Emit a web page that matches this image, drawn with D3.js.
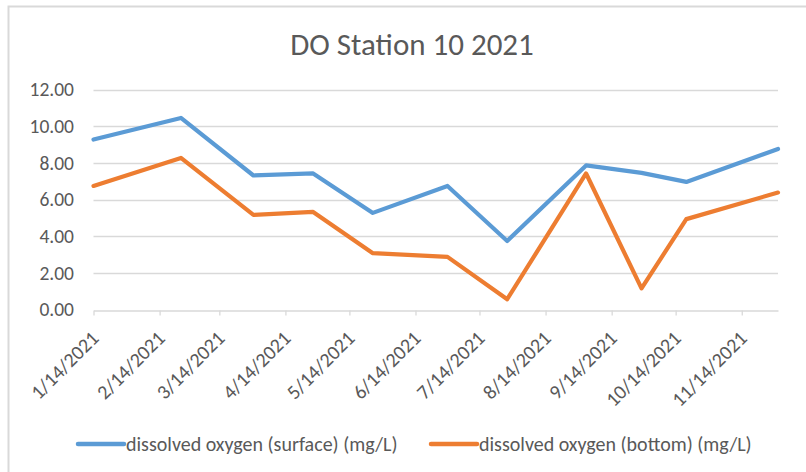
<!DOCTYPE html>
<html>
<head>
<meta charset="utf-8">
<script src="https://cdn.jsdelivr.net/npm/d3@7"></script>
<style>
  body { margin: 0; background: #fff; }
  text { font-family: Carlito, Calibri, Lato, "Open Sans", sans-serif; fill: #595959; }
</style>
</head>
<body>
<div id="chart"></div>
<script>
// sampling dates and readings
const dates = ["2021-01-14", "2021-02-24", "2021-03-30", "2021-04-27", "2021-05-25", "2021-06-29",
               "2021-07-27", "2021-09-02", "2021-09-28", "2021-10-19", "2021-12-01"];
const surface = [9.27, 10.45, 7.31, 7.42, 5.27, 6.74, 3.74, 7.86, 7.45, 6.96, 8.76];
const bottom  = [6.74, 8.27, 5.16, 5.32, 3.07, 2.87, 0.56, 7.42, 1.15, 4.93, 6.38];

const tickDates = ["2021-01-14", "2021-02-14", "2021-03-14", "2021-04-14", "2021-05-14", "2021-06-14",
                   "2021-07-14", "2021-08-14", "2021-09-14", "2021-10-14", "2021-11-14"];
const yTicks = [0, 2, 4, 6, 8, 10, 12];

const seriesNames = ["dissolved oxygen (surface) (mg/L)", "dissolved oxygen (bottom) (mg/L)"];
const colors = ["#5B9BD5", "#ED7D31"];

const parse = d3.utcParse("%Y-%m-%d");
const fmtTick = d3.utcFormat("%-m/%-d/%Y");

const W = 806, H = 472;
const svg = d3.select("#chart").append("svg")
  .attr("width", W).attr("height", H);

// chart frame
svg.append("rect")
  .attr("x", 8.5).attr("y", 6.5)
  .attr("width", W + 10).attr("height", H + 10)
  .attr("fill", "none").attr("stroke", "#d9d9d9").attr("stroke-width", 2);

// title
svg.append("text")
  .attr("x", 412).attr("y", 55)
  .attr("text-anchor", "middle")
  .style("font-size", "31px")
  .text("DO Station 10 2021");

// scales
const x = d3.scaleUtc()
  .domain([parse(dates[0]), parse(dates[dates.length - 1])])
  .range([93.5, 778]);
const y = d3.scaleLinear().domain([0, 12]).range([309.5, 89.5]);

// gridlines
svg.append("g")
  .selectAll("line")
  .data(yTicks.filter(d => d > 0))
  .join("line")
  .attr("x1", 93.5).attr("x2", 778)
  .attr("y1", d => Math.round(y(d)) + 0.5).attr("y2", d => Math.round(y(d)) + 0.5)
  .attr("stroke", "#d9d9d9").attr("stroke-width", 1.3);

// y labels
svg.append("g")
  .selectAll("text")
  .data(yTicks)
  .join("text")
  .attr("x", 74)
  .attr("y", d => y(d))
  .attr("dy", "0.35em")
  .attr("text-anchor", "end")
  .style("font-size", "19.5px")
  .text(d => d3.format(".2f")(d));

// x axis
const xAxis = svg.append("g")
  .attr("transform", `translate(0,${Math.round(y(0)) + 0.5})`)
  .call(d3.axisBottom(x)
    .tickValues(tickDates.map(parse))
    .tickSize(5)
    .tickSizeOuter(0)
    .tickFormat(fmtTick));
xAxis.select(".domain").attr("stroke", "#d9d9d9").attr("stroke-width", 1.3);
xAxis.selectAll(".tick line").attr("stroke", "#d9d9d9").attr("stroke-width", 1.3);
xAxis.selectAll(".tick text")
  .attr("y", 0).attr("dy", 0)
  .attr("transform", "translate(6,29) rotate(-45)")
  .attr("text-anchor", "end")
  .style("font-size", "20px")
  .style("font-family", "Carlito, Calibri, Lato, 'Open Sans', sans-serif")
  .attr("fill", "#595959");

// lines
const line = d3.line()
  .x((d, i) => x(parse(dates[i])))
  .y(d => y(d));

[surface, bottom].forEach((vals, k) => {
  svg.append("path")
    .datum(vals)
    .attr("fill", "none")
    .attr("stroke", colors[k])
    .attr("stroke-width", 4.2)
    .attr("stroke-linejoin", "round")
    .attr("stroke-linecap", "round")
    .attr("d", line);
});

// legend
const legendX = [78, 431];
seriesNames.forEach((name, k) => {
  const g = svg.append("g").attr("transform", `translate(${legendX[k]},444)`);
  g.append("line")
    .attr("x1", 0).attr("x2", 46)
    .attr("stroke", colors[k]).attr("stroke-width", 4.5)
    .attr("stroke-linecap", "round");
  g.append("text")
    .attr("x", 48).attr("dy", "0.35em")
    .style("font-size", "20px")
    .text(name);
});
</script>
</body>
</html>
